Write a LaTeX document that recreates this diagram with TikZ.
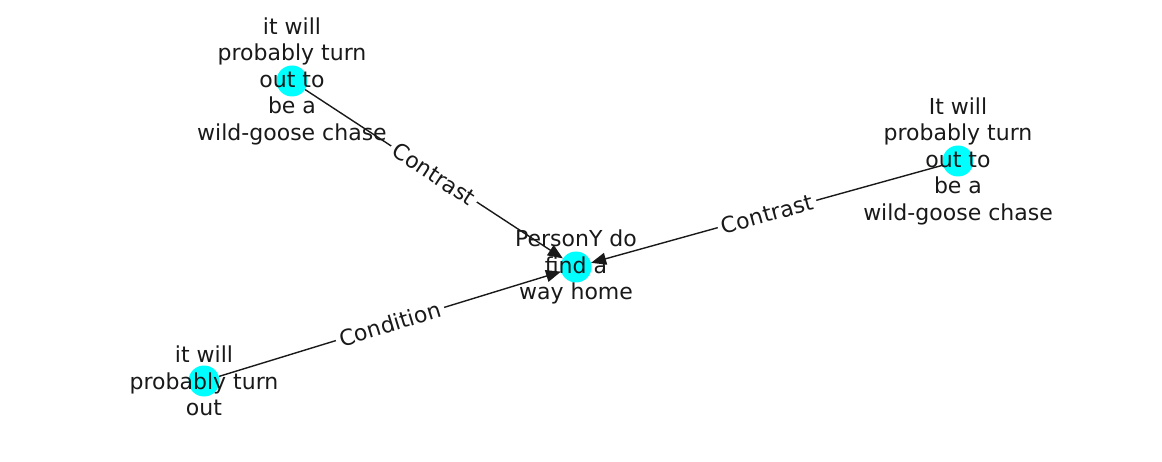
\documentclass[tikz,border=0pt]{standalone}
\usepackage{fontspec}
\setmainfont{DejaVu Sans}
\usetikzlibrary{arrows.meta}
\definecolor{nodecyan}{RGB}{0,255,255}

\begin{document}
\begin{tikzpicture}[x=1pt, y=-1pt]
    \tikzstyle{dot} = [circle, fill=nodecyan, minimum size=31pt, inner sep=0pt]
    \tikzstyle{txt} = [align=center, text=black!90, inner sep=0pt,
                                      font=\fontsize{22}{26.5}\selectfont]
    \tikzstyle{rel} = [-{Triangle[length=15pt, width=12pt]}, line width=1.4pt, black!90]
    \tikzstyle{tag} = [midway, sloped, fill=white, text=black!90, inner xsep=4pt, inner ysep=2pt,
                                      font=\fontsize{22}{26.5}\selectfont]
  \useasboundingbox (0,0) rectangle (1162,462);
  \node[dot](goose1) at (292,81){};
  \node[dot](goose2) at (958,161){};
  \node[dot](home) at (576,267){};
  \node[dot](turn) at (204,381){};
  \draw[rel] (goose1) -- node[tag]{Contrast} (home);
  \draw[rel] (goose2) -- node[tag]{Contrast} (home);
  \draw[rel] (turn) -- node[tag]{Condition} (home);
  \node[txt] at (goose1){it will\\probably turn\\out to\\be a\\wild-goose chase};
  \node[txt] at (goose2){It will\\probably turn\\out to\\be a\\wild-goose chase};
  \node[txt] at (home){PersonY do\\find a\\way home};
  \node[txt] at (turn){it will\\probably turn\\out};
\end{tikzpicture}
\end{document}
